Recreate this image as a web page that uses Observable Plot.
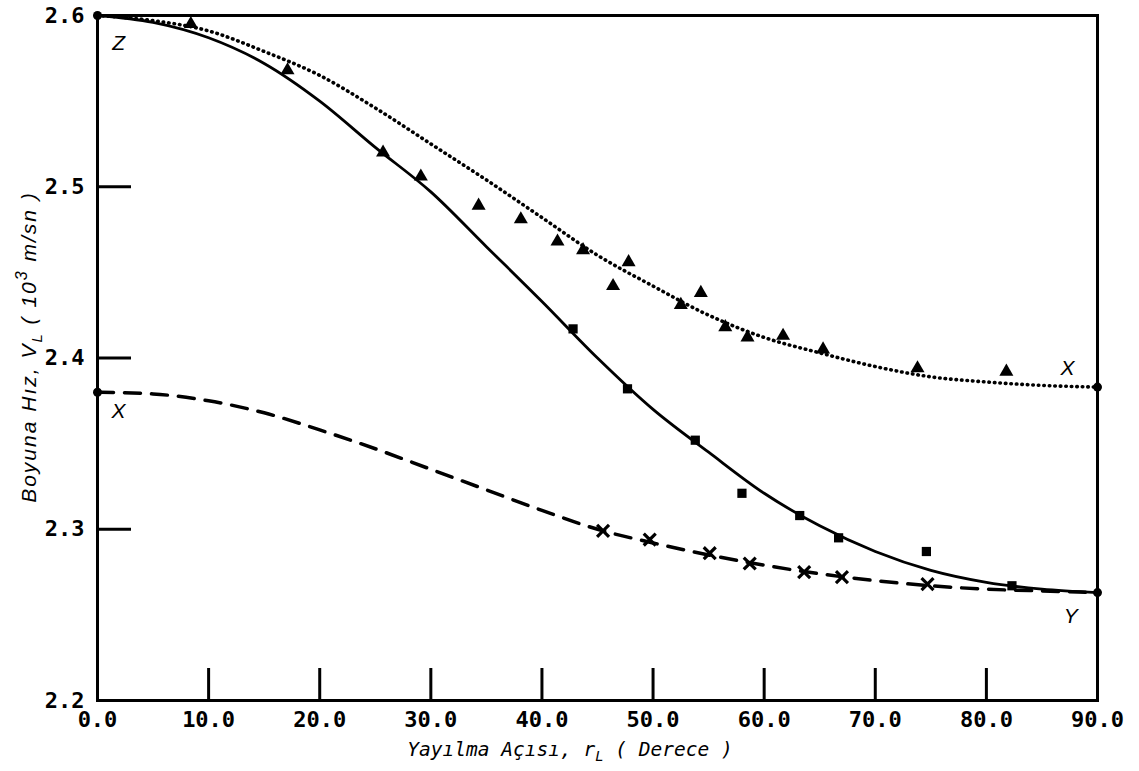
<!DOCTYPE html>
<html>
<head>
<meta charset="utf-8">
<script src="https://cdn.jsdelivr.net/npm/d3@7"></script>
<script src="https://cdn.jsdelivr.net/npm/@observablehq/plot@0.6"></script>
<style>
  html, body { margin: 0; padding: 0; background: #ffffff; }
  #chart { width: 1139px; height: 771px; }
</style>
</head>
<body>
<div id="chart"></div>
<script>
// ---- Data ----
// Angles (degrees) at which the three fitted curves were read
const curveAngles = [0, 5, 10, 15, 20, 25, 30, 35, 40, 45, 50, 55, 60, 65, 70, 75, 80, 85, 90];
// Solid curve Z -> Y
const curveZY = [2.600, 2.596, 2.587, 2.572, 2.550, 2.523, 2.497, 2.465, 2.433, 2.400, 2.370, 2.345, 2.321, 2.302, 2.287, 2.276, 2.269, 2.265, 2.263];
// Dotted curve Z -> X
const curveZX = [2.600, 2.597, 2.591, 2.579, 2.565, 2.546, 2.525, 2.504, 2.482, 2.460, 2.442, 2.425, 2.412, 2.403, 2.395, 2.389, 2.386, 2.384, 2.383];
// Dashed curve X -> Y
const curveXY = [2.380, 2.379, 2.375, 2.368, 2.358, 2.347, 2.335, 2.323, 2.311, 2.300, 2.292, 2.285, 2.279, 2.274, 2.270, 2.267, 2.265, 2.264, 2.263];

// Triangle measurements
const triAngle = [8.4, 17.1, 25.7, 29.1, 34.3, 38.1, 41.4, 43.7, 46.4, 47.8, 52.5, 54.3, 56.5, 58.5, 61.7, 65.3, 73.8, 81.8];
const triValue = [2.595, 2.568, 2.520, 2.506, 2.489, 2.481, 2.468, 2.463, 2.442, 2.456, 2.431, 2.438, 2.418, 2.412, 2.413, 2.405, 2.394, 2.392];

// Square measurements
const sqAngle = [42.8, 47.7, 53.8, 58.0, 63.2, 66.7, 74.6, 82.3];
const sqValue = [2.417, 2.382, 2.352, 2.321, 2.308, 2.295, 2.287, 2.267];

// Cross measurements
const crossAngle = [45.5, 49.7, 55.1, 58.7, 63.6, 67.0, 74.7];
const crossValue = [2.299, 2.294, 2.286, 2.280, 2.275, 2.272, 2.268];

// Curve end points
const endAngle = [0, 90, 90, 0];
const endValue = [2.600, 2.383, 2.263, 2.380];

// Curve letters
const letterText = ["Z", "X", "X", "Y"];
const letterAngle = [1.9, 1.9, 87.3, 87.6];
const letterValue = [2.584, 2.369, 2.394, 2.249];

// Axis ticks
const xTickValues = [0, 10, 20, 30, 40, 50, 60, 70, 80, 90];
const xTickLabels = ["0.0", "10.0", "20.0", "30.0", "40.0", "50.0", "60.0", "70.0", "80.0", "90.0"];
const yTickValues = [2.2, 2.3, 2.4, 2.5, 2.6];
const yTickLabels = ["2.2", "2.3", "2.4", "2.5", "2.6"];

const xTitle = ["Yayılma Açısı, r", "L", " ( Derece )"];
const yTitle = ["Boyuna Hız, V", "L", " ( 10", "3", " m/sn )"];

// ---- Build tables ----
const zy = curveAngles.map((a, i) => ({a, v: curveZY[i]}));
const zx = curveAngles.map((a, i) => ({a, v: curveZX[i]}));
const xy = curveAngles.map((a, i) => ({a, v: curveXY[i]}));
const tri = triAngle.map((a, i) => ({a, v: triValue[i]}));
const sq = sqAngle.map((a, i) => ({a, v: sqValue[i]}));
const cr = crossAngle.map((a, i) => ({a, v: crossValue[i]}));
const ends = endAngle.map((a, i) => ({a, v: endValue[i]}));
const letters = letterText.map((t, i) => ({t, a: letterAngle[i], v: letterValue[i]}));

const tickFont = "DejaVu Sans Mono";

const plot = Plot.plot({
  width: 1139,
  height: 771,
  marginLeft: 97,
  marginRight: 42,
  marginTop: 15,
  marginBottom: 71,
  x: {domain: [0, 90]},
  y: {domain: [2.2, 2.6]},
  style: {background: "#ffffff", color: "#000000", overflow: "visible"},
  marks: [
    Plot.axisX({ticks: xTickValues, tickSize: 0, tickPadding: 11,
      tickFormat: d => xTickLabels[xTickValues.indexOf(d)],
      fontSize: 22, fontWeight: "bold", fontFamily: tickFont, label: null}),
    Plot.axisY({ticks: yTickValues, tickSize: 0, tickPadding: 13,
      tickFormat: d => yTickLabels[yTickValues.indexOf(d)],
      fontSize: 22, fontWeight: "bold", fontFamily: tickFont, label: null}),
    Plot.tickX(xTickValues.slice(1, -1), {x: d => d, insetTop: 653, stroke: "#000", strokeWidth: 3}),
    Plot.tickY(yTickValues.slice(1, -1), {y: d => d, insetRight: 966, stroke: "#000", strokeWidth: 3}),
    Plot.frame({stroke: "#000", strokeWidth: 3}),
    Plot.line(zy, {x: "a", y: "v", curve: "monotone-x", stroke: "#000", strokeWidth: 2.8}),
    Plot.line(zx, {x: "a", y: "v", curve: "monotone-x", stroke: "#000", strokeWidth: 3.6,
      strokeDasharray: "0.5 5", strokeLinecap: "round"}),
    Plot.line(xy, {x: "a", y: "v", curve: "monotone-x", stroke: "#000", strokeWidth: 3.5,
      strokeDasharray: "16 11", strokeLinecap: "round"}),
    Plot.dot(tri, {x: "a", y: "v", symbol: "triangle", r: 5.2, fill: "#000"}),
    Plot.dot(sq, {x: "a", y: "v", symbol: "square", r: 5.2, fill: "#000"}),
    Plot.dot(cr, {x: "a", y: "v", symbol: "times", r: 5.5, stroke: "#000", strokeWidth: 3.2}),
    Plot.dot(ends, {x: "a", y: "v", r: 4.5, fill: "#000"}),
    Plot.text(letters, {x: "a", y: "v", text: "t", fontSize: 21, fontStyle: "italic",
      fontFamily: "Liberation Sans", textAnchor: "middle", fill: "#000"})
  ]
});

const svg = d3.select(plot);
// x axis title
const xt = svg.append("text")
  .attr("x", 570).attr("y", 756)
  .attr("text-anchor", "middle")
  .attr("font-family", "DejaVu Sans Mono")
  .attr("font-style", "italic")
  .attr("font-size", 19.5)
  .attr("fill", "#000");
xt.append("tspan").text(xTitle[0]);
xt.append("tspan").attr("dy", 5).attr("font-size", 14).text(xTitle[1]);
xt.append("tspan").attr("dy", -5).text(xTitle[2]);

// y axis title
const yt = svg.append("text")
  .attr("transform", "rotate(-90)")
  .attr("x", -347).attr("y", 36)
  .attr("text-anchor", "middle")
  .attr("font-family", "Liberation Sans")
  .attr("font-style", "italic")
  .attr("font-size", 21)
  .attr("letter-spacing", 2)
  .attr("fill", "#000");
yt.append("tspan").text(yTitle[0]);
yt.append("tspan").attr("dy", 6).attr("font-size", 15).text(yTitle[1]);
yt.append("tspan").attr("dy", -6).text(yTitle[2]);
yt.append("tspan").attr("dy", -9).attr("font-size", 16).text(yTitle[3]);
yt.append("tspan").attr("dy", 9).text(yTitle[4]);

document.getElementById("chart").appendChild(plot);
</script>
</body>
</html>
